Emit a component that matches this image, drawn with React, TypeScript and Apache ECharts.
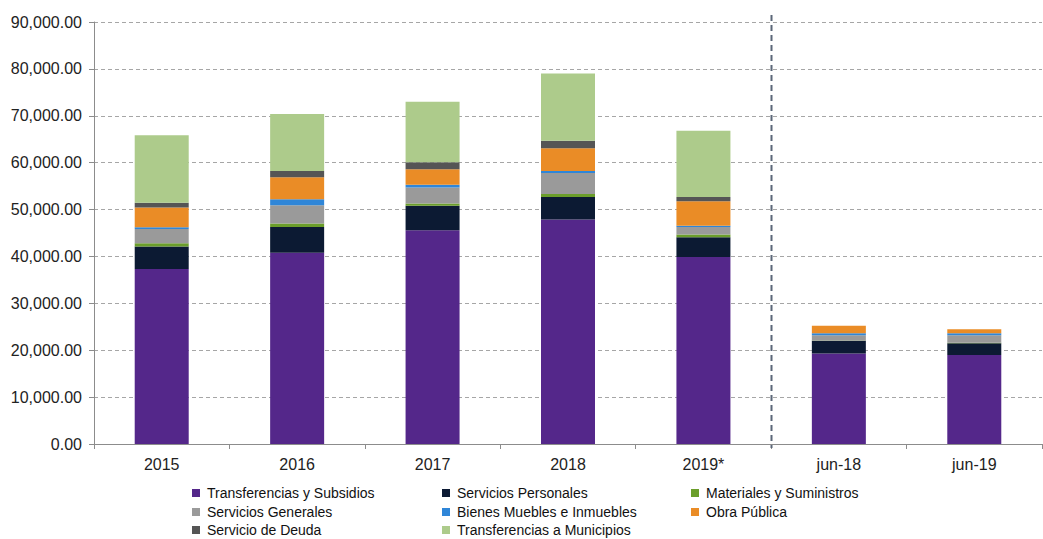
import React, { useEffect, useRef } from "react";
import * as echarts from "echarts";

const categories = ["2015", "2016", "2017", "2018", "2019*", "jun-18", "jun-19"];
const transferenciasSubsidios = [37300, 40800, 45600, 47900, 39900, 19300, 19000];
const serviciosPersonales = [4800, 5500, 5200, 4800, 4200, 2700, 2500];
const materialesSuministros = [700, 700, 500, 600, 600, 100, 100];
const serviciosGenerales = [3050, 3900, 3400, 4500, 1600, 1100, 1600];
const bienesMuebles = [400, 1300, 600, 400, 250, 400, 400];
const obraPublica = [4200, 4700, 3300, 4850, 5200, 1600, 850];
const servicioDeuda = [1000, 1300, 1500, 1650, 950, 0, 0];
const transferenciasMunicipios = [14400, 12200, 12900, 14300, 14100, 0, 0];
const yTicks = [0, 10000, 20000, 30000, 40000, 50000, 60000, 70000, 80000, 90000];

const seriesDefs = [
  { name: "Transferencias y Subsidios", data: transferenciasSubsidios, color: "#54278a" },
  { name: "Servicios Personales", data: serviciosPersonales, color: "#0c1a33" },
  { name: "Materiales y Suministros", data: materialesSuministros, color: "#6b9e2b" },
  { name: "Servicios Generales", data: serviciosGenerales, color: "#9a9a9a" },
  { name: "Bienes Muebles e Inmuebles", data: bienesMuebles, color: "#2f86d8" },
  { name: "Obra Pública", data: obraPublica, color: "#ea8c26" },
  { name: "Servicio de Deuda", data: servicioDeuda, color: "#555555" },
  { name: "Transferencias a Municipios", data: transferenciasMunicipios, color: "#adcb8b" },
];

// legend grid: [column, row] per series
const legendCells: [number, number][] = [
  [0, 0], [1, 0], [2, 0],
  [0, 1], [1, 1], [2, 1],
  [0, 2], [1, 2],
];
const legendLefts = [192, 442, 691];
const legendTops = [486, 505, 523];

const FONT = "'Liberation Sans Narrow', 'Arial Narrow', 'Liberation Sans', Arial, sans-serif";

export default function App() {
  const ref = useRef<HTMLDivElement>(null);
  useEffect(() => {
    if (!ref.current) return;
    const chart = echarts.init(ref.current, null, { renderer: "svg" });
    const fmt = (v: number) =>
      v.toLocaleString("en-US", { minimumFractionDigits: 2, maximumFractionDigits: 2 });
    chart.setOption({
      animation: false,
      backgroundColor: "#ffffff",
      grid: { left: 94, right: 1, top: 22, bottom: 95, containLabel: false },
      legend: seriesDefs.map((s, i) => ({
        orient: "horizontal",
        left: legendLefts[legendCells[i][0]],
        top: legendTops[legendCells[i][1]],
        itemWidth: 8,
        itemHeight: 8,
        icon: "rect",
        data: [s.name],
        textStyle: { fontFamily: FONT, fontSize: 14, color: "#111", padding: [0, 0, 0, 2] },
        selectedMode: false,
        padding: 0,
      })),
      xAxis: {
        type: "category",
        data: categories,
        axisLine: { lineStyle: { color: "#8c8c8c", width: 1 } },
        axisTick: { show: true, length: 5, lineStyle: { color: "#8c8c8c" } },
        axisLabel: { fontFamily: FONT, fontSize: 16, color: "#222", margin: 12 },
      },
      yAxis: {
        type: "value",
        min: yTicks[0],
        max: yTicks[yTicks.length - 1],
        interval: yTicks[1] - yTicks[0],
        axisLine: { show: true, lineStyle: { color: "#8c8c8c", width: 1 } },
        axisTick: { show: true, length: 5, lineStyle: { color: "#8c8c8c" } },
        axisLabel: { fontFamily: FONT, fontSize: 16, color: "#222", margin: 12, formatter: fmt },
        splitLine: { show: true, lineStyle: { color: "#a6a6a6", type: [4, 3], width: 1 } },
      },
      series: seriesDefs.map((s) => ({
        name: s.name,
        type: "bar",
        stack: "total",
        barWidth: 54,
        data: s.data,
        itemStyle: { color: s.color },
      })),
    });
    const x4 = chart.convertToPixel({ xAxisIndex: 0 }, 4) as number;
    const x5 = chart.convertToPixel({ xAxisIndex: 0 }, 5) as number;
    const y0 = chart.convertToPixel({ yAxisIndex: 0 }, 0) as number;
    const yTop = chart.convertToPixel({ yAxisIndex: 0 }, yTicks[yTicks.length - 1]) as number;
    const xs = Math.round((x4 + x5) / 2) + 0.5;
    chart.setOption({
      graphic: [
        {
          type: "line",
          shape: { x1: xs, y1: yTop - 7, x2: xs, y2: y0 + 4 },
          style: { stroke: "#5b6778", lineWidth: 2, lineDash: [6, 4] },
          z: 10,
        },
      ],
    });
    return () => chart.dispose();
  }, []);
  return <div ref={ref} style={{ width: 1043, height: 539, position: "absolute", left: 0, top: 0 }} />;
}
